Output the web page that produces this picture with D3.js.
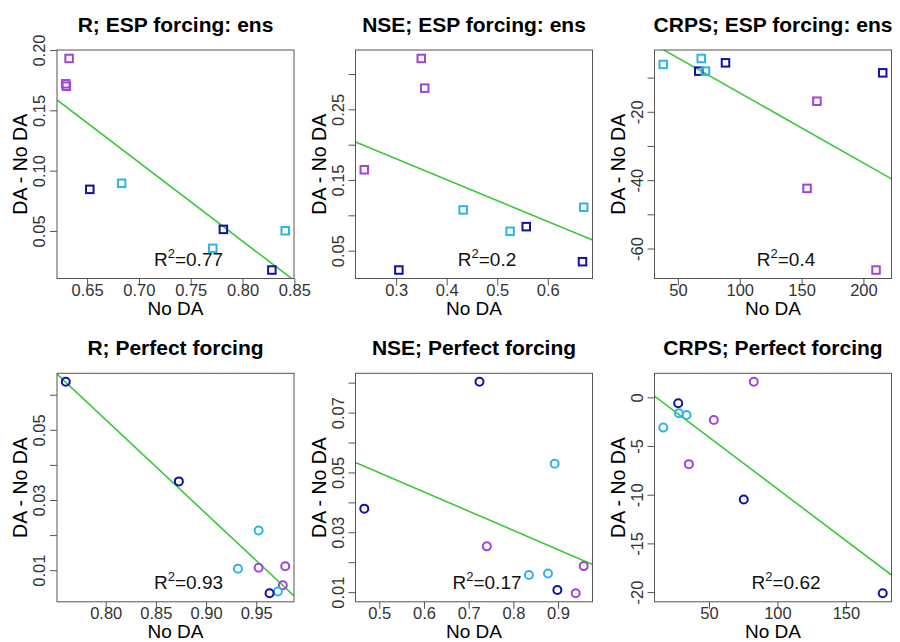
<!DOCTYPE html>
<html><head><meta charset="utf-8">
<script src="https://cdn.jsdelivr.net/npm/d3@7"></script>
<style>body{margin:0;background:#fff}svg{display:block;font-family:"Liberation Sans",Arial,Helvetica,sans-serif}</style>
</head><body><svg id="c" width="900" height="642"></svg>
<script>
// ---------- data ----------
const panelTitles = ["R; ESP forcing: ens", "NSE; ESP forcing: ens", "CRPS; ESP forcing: ens",
                     "R; Perfect forcing", "NSE; Perfect forcing", "CRPS; Perfect forcing"];
const r2Labels = ["0.77", "0.2", "0.4", "0.93", "0.17", "0.62"];
const markerShapes = ["square", "square", "square", "circle", "circle", "circle"];

// groups: p = purple, c = cyan, b = dark blue
const rEspGroup  = ["p","p","p","b","c","b","c","c","b"];
const rEspX      = [0.6326,0.6294,0.6300,0.6526,0.6833,0.7815,0.7713,0.8412,0.8283];
const rEspY      = [0.193,0.172,0.170,0.0845,0.0895,0.0513,0.0356,0.0502,0.0176];

const nseEspGroup = ["p","p","p","c","c","b","c","b","b"];
const nseEspX     = [0.3497,0.3565,0.237,0.4326,0.5254,0.5573,0.671,0.6686,0.3054];
const nseEspY     = [0.322,0.280,0.1645,0.1077,0.0774,0.084,0.1114,0.0344,0.0226];

const crpsEspGroup = ["c","c","b","c","b","b","p","p","p"];
const crpsEspX     = [38.2,68.9,66.9,72.3,88.5,215.6,162.4,154.4,210.2];
const crpsEspY     = [-6.14,-4.39,-8.1,-8.1,-5.67,-8.6,-16.9,-42.4,-66.3];

const rPerfGroup = ["b","b","c","c","p","p","p","c","b"];
const rPerfX     = [0.7602,0.8729,0.9524,0.9318,0.9524,0.9789,0.9765,0.9716,0.9633];
const rPerfY     = [0.0637,0.0353,0.0213,0.0104,0.0107,0.0111,0.0057,0.0039,0.0034];

const nsePerfGroup = ["b","c","b","p","c","c","p","b","p"];
const nsePerfX     = [0.7242,0.8924,0.4664,0.7406,0.8348,0.8774,0.9574,0.8984,0.9395];
const nsePerfY     = [0.0803,0.0529,0.0379,0.0253,0.0157,0.0162,0.0187,0.0107,0.0096];

const crpsPerfGroup = ["p","b","c","c","c","p","p","b","b"];
const crpsPerfX     = [82.7,27.5,28.0,33.6,16.6,53.5,35.3,75.4,176.9];
const crpsPerfY     = [1.6,-0.61,-1.64,-1.81,-3.11,-2.32,-6.86,-10.5,-20.13];

// tick values and which of them carry labels
const xTickValues = [[0.65,0.70,0.75,0.80,0.85],[0.3,0.4,0.5,0.6],[50,100,150,200],
                     [0.80,0.85,0.90,0.95],[0.5,0.6,0.7,0.8,0.9],[50,100,150]];
const xTickLabels = [["0.65","0.70","0.75","0.80","0.85"],["0.3","0.4","0.5","0.6"],["50","100","150","200"],
                     ["0.80","0.85","0.90","0.95"],["0.5","0.6","0.7","0.8","0.9"],["50","100","150"]];
const yTickValues = [[0.05,0.10,0.15,0.20],[0.05,0.10,0.15,0.20,0.25,0.30],[-60,-50,-40,-30,-20,-10],
                     [0.01,0.02,0.03,0.04,0.05,0.06],[0.01,0.02,0.03,0.04,0.05,0.06,0.07,0.08],[-20,-15,-10,-5,0]];
const yTickLabels = [["0.05","0.10","0.15","0.20"],["0.05","","0.15","","0.25",""],["-60","","-40","","-20",""],
                     ["0.01","","0.03","","0.05",""],["0.01","","0.03","","0.05","","0.07",""],["-20","-15","-10","-5","0"]];

const xAxisTitle = "No DA";
const yAxisTitle = "DA - No DA";

// ---------- drawing ----------
const panels = [
  {x: rEspX, y: rEspY, g: rEspGroup}, {x: nseEspX, y: nseEspY, g: nseEspGroup}, {x: crpsEspX, y: crpsEspY, g: crpsEspGroup},
  {x: rPerfX, y: rPerfY, g: rPerfGroup}, {x: nsePerfX, y: nsePerfY, g: nsePerfGroup}, {x: crpsPerfX, y: crpsPerfY, g: crpsPerfGroup}
];
const colors = {p: "#A043DB", c: "#2EB4E6", b: "#1010A8"};
const colLeft = [57, 355.5, 654.5], boxW = 237;
const rowTop = [50, 373.3], boxH = 228.5;

const svg = d3.select("#c");
const defs = svg.append("defs");

function rRange(v) { // R's default 4% extension
  const [a, b] = d3.extent(v); const d = (b - a) * 0.04; return [a - d, b + d];
}

panels.forEach((P, i) => {
  const col = i % 3, row = Math.floor(i / 3);
  const L = colLeft[col], T = rowTop[row], R = L + boxW, B = T + boxH;
  const x = d3.scaleLinear().domain(rRange(P.x)).range([L, R]);
  const y = d3.scaleLinear().domain(rRange(P.y)).range([B, T]);
  const g = svg.append("g");

  defs.append("clipPath").attr("id", "clip" + i).append("rect")
    .attr("x", L).attr("y", T).attr("width", boxW).attr("height", boxH);

  // x axis
  const xa = d3.axisBottom(x).tickValues(xTickValues[i]).tickSize(7).tickSizeOuter(0)
    .tickFormat((d, k) => xTickLabels[i][k]);
  const xg = g.append("g").attr("transform", `translate(0,${B})`).call(xa);
  xg.select(".domain").remove();
  xg.selectAll(".tick line").attr("stroke", "#555");
  xg.selectAll(".tick text").attr("font-size", 16.5).attr("fill", "#333").attr("dy", null).attr("y", 17)
    .attr("font-family", "Liberation Sans, Arial, sans-serif");

  // y axis
  const ya = d3.axisLeft(y).tickValues(yTickValues[i]).tickSize(7).tickSizeOuter(0)
    .tickFormat((d, k) => yTickLabels[i][k]);
  const yg = g.append("g").attr("transform", `translate(${L},0)`).call(ya);
  yg.select(".domain").remove();
  yg.selectAll(".tick line").attr("stroke", "#555");
  yg.selectAll(".tick text").attr("font-size", 16.5).attr("fill", "#333")
    .attr("x", null).attr("dy", null).attr("text-anchor", "middle")
    .attr("transform", "translate(-12,0) rotate(-90)")
    .attr("font-family", "Liberation Sans, Arial, sans-serif");

  // regression line (least squares)
  const mx = d3.mean(P.x), my = d3.mean(P.y);
  const sxy = d3.sum(P.x, (v, k) => (v - mx) * (P.y[k] - my));
  const sxx = d3.sum(P.x, v => (v - mx) ** 2);
  const b1 = sxy / sxx, b0 = my - b1 * mx;
  const xd = x.domain();
  g.append("line").attr("clip-path", `url(#clip${i})`)
    .attr("x1", x(xd[0])).attr("y1", y(b0 + b1 * xd[0]))
    .attr("x2", x(xd[1])).attr("y2", y(b0 + b1 * xd[1]))
    .attr("stroke", "#3CC83C").attr("stroke-width", 1.6);

  // points
  const pts = g.append("g");
  P.x.forEach((vx, k) => {
    const c = colors[P.g[k]];
    if (markerShapes[i] === "square") {
      const s = 7.5;
      pts.append("rect").attr("x", x(vx) - s / 2).attr("y", y(P.y[k]) - s / 2)
        .attr("width", s).attr("height", s).attr("fill", "none").attr("stroke", c).attr("stroke-width", 2);
    } else {
      pts.append("circle").attr("cx", x(vx)).attr("cy", y(P.y[k])).attr("r", 4)
        .attr("fill", "none").attr("stroke", c).attr("stroke-width", 2);
    }
  });

  // box
  g.append("rect").attr("x", L).attr("y", T).attr("width", boxW).attr("height", boxH)
    .attr("fill", "none").attr("stroke", "#555").attr("stroke-width", 1);

  // R² text
  const t = g.append("text").attr("x", (L + R) / 2 + 13).attr("y", B - 13)
    .attr("text-anchor", "middle").attr("font-size", 19).attr("fill", "#111");
  t.append("tspan").text("R");
  t.append("tspan").text("2").attr("font-size", 13).attr("dy", -8);
  t.append("tspan").text("=" + r2Labels[i]).attr("dy", 8);

  // titles
  g.append("text").attr("x", (L + R) / 2).attr("y", T - 18.3).attr("text-anchor", "middle")
    .attr("font-size", 21).attr("font-weight", "bold").attr("fill", "#000").text(panelTitles[i]);
  g.append("text").attr("x", (L + R) / 2).attr("y", B + 36.5).attr("text-anchor", "middle")
    .attr("font-size", 19).attr("fill", "#000").text(xAxisTitle);
  g.append("text").attr("transform", `translate(${L - 30},${(T + B) / 2}) rotate(-90)`)
    .attr("text-anchor", "middle").attr("font-size", 19.5).attr("fill", "#000").text(yAxisTitle);
});
</script></body></html>
